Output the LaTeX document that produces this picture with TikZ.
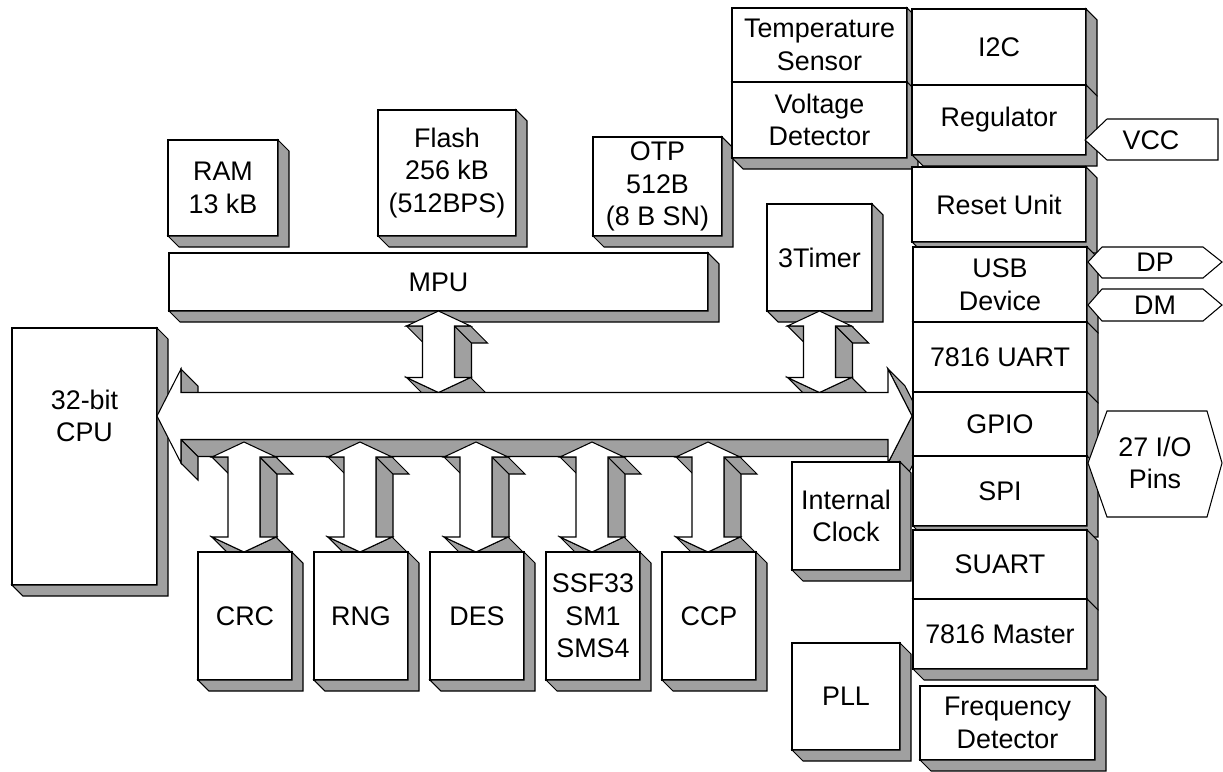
\documentclass[tikz,border=0pt]{standalone}
\usepackage{fontspec}
\setmainfont{Liberation Sans}
\usetikzlibrary{calc}
\definecolor{faceGray}{RGB}{160,160,160}

% box with its right and bottom faces: name, x1, y1, x2, y2, text
\newcommand\chipblock[6]{%
  \node[blk, minimum width={((#4)-(#2))*0.02cm}, minimum height={((#5)-(#3))*0.02cm}]
     (#1) at ({((#2)+(#4))/2},{((#3)+(#5))/2}) {#6};
  \filldraw[sideface] (#1.north east) -- ++(11,11) -- ($(#1.south east)+(11,11)$)
     -- ($(#1.south west)+(11,11)$) -- (#1.south west) -- (#1.south east) -- cycle;
}
% double arrow between an upper tip and a lower tip
\newcommand\vlink[2]{%
  \filldraw[sideface] ($(#1)+(16,15)$) -- ($(#2)+(16,-15)$) -- ($(#2)+(33,2)$) -- ($(#1)+(33,32)$) -- cycle;
  \filldraw[sideface] ($(#1)+(32,15)$) -- ($(#1)+(16,15)$) -- ($(#1)+(33,32)$) -- ($(#1)+(49,32)$) -- cycle;
  \filldraw[sideface] ($(#1)+(-16,15)$) -- ($(#1)+(-32,15)$) -- ($(#1)+(-15,32)$) -- ($(#1)+(1,32)$) -- cycle;
  \filldraw[sideface] ($(#2)+(32,-15)$) -- (#2) -- ($(#2)+(17,17)$) -- ($(#2)+(49,2)$) -- cycle;
  \filldraw[sideface] (#2) -- ($(#2)+(-32,-15)$) -- ($(#2)+(-15,2)$) -- ($(#2)+(17,17)$) -- cycle;
  \filldraw[frontface] (#1) -- ($(#1)+(32,15)$) -- ($(#1)+(16,15)$) -- ($(#2)+(16,-15)$)
     -- ($(#2)+(32,-15)$) -- (#2) -- ($(#2)+(-32,-15)$) -- ($(#2)+(-16,-15)$)
     -- ($(#1)+(-16,15)$) -- ($(#1)+(-32,15)$) -- cycle;
}

\begin{document}
\begin{tikzpicture}[x=0.02cm, y=-0.02cm, line width=0.6pt,
  font=\fontsize{15.3}{18.6}\selectfont,
  blk/.style={draw, fill=white, inner sep=0pt, outer sep=0pt, align=center},
  sideface/.style={draw, fill=faceGray},
  frontface/.style={draw, fill=white},
  pinshape/.style={draw, fill=white},
  pinlbl/.style={inner sep=0pt, align=center}]
\useasboundingbox (0,0) rectangle (1223,771);

% ===== memories and sensors along the top =====
\chipblock{ram}{168}{140}{278}{236}{RAM\\13 kB}
\chipblock{flash}{378}{110}{516}{236}{Flash\\256 kB\\(512BPS)}
\chipblock{otp}{593}{137}{722}{236}{OTP\\512B\\(8 B SN)}
\chipblock{temp}{732}{8}{907}{82}{Temperature\\Sensor}
\chipblock{volt}{732}{82}{907}{158}{Voltage\\Detector}
\chipblock{i2c}{912}{9}{1086}{85}{I2C}
\chipblock{reg}{912}{85}{1086}{155}{Regulator}
\chipblock{rst}{912}{167}{1086}{242}{Reset Unit}

% ===== MPU, timer, CPU =====
\chipblock{mpu}{169}{253}{708}{311}{MPU}
\chipblock{timer}{767}{204}{872}{311}{3Timer}
\chipblock{cpu}{12}{328}{157}{585}{}

\coordinate (busL) at (157,416);
\coordinate (busR) at (912,416);
\coordinate (bustop) at (0,392.5);
\coordinate (busbot) at (0,442);
\node[pinlbl] (cpulbl) at (cpu.center |- busL) {32-bit\\CPU};

\vlink{mpu.south}{mpu.south |- bustop}
\vlink{timer.south}{timer.south |- bustop}

% ===== system bus =====
\filldraw[sideface] ($(busL)+(24,-47)$) -- ($(busL)+(24,-23.5)$) -- ($(busL)+(41,-6.5)$) -- ($(busL)+(41,-30)$) -- cycle;
\filldraw[sideface] ($(busR)+(-24,23.5)$) -- ($(busL)+(24,23.5)$) -- ($(busL)+(41,40.5)$) -- ($(busR)+(-7,40.5)$) -- cycle;
\filldraw[sideface] ($(busL)+(24,23.5)$) -- ($(busL)+(24,47)$) -- ($(busL)+(41,64)$) -- ($(busL)+(41,40.5)$) -- cycle;
\filldraw[sideface] ($(busR)+(-24,-47)$) -- (busR) -- ($(busR)+(17,17)$) -- ($(busR)+(-7,-30)$) -- cycle;
\filldraw[sideface] (busR) -- ($(busR)+(-24,47)$) -- ($(busR)+(-7,64)$) -- ($(busR)+(17,17)$) -- cycle;
\filldraw[frontface] (busL) -- ($(busL)+(24,-47)$) -- ($(busL)+(24,-23.5)$) -- ($(busR)+(-24,-23.5)$)
   -- ($(busR)+(-24,-47)$) -- (busR) -- ($(busR)+(-24,47)$) -- ($(busR)+(-24,23.5)$)
   -- ($(busL)+(24,23.5)$) -- ($(busL)+(24,47)$) -- cycle;

% ===== peripherals on the right =====
\chipblock{usb}{913}{247}{1087}{322}{USB\\Device}
\chipblock{uart}{913}{322}{1087}{392}{7816 UART}
\chipblock{gpio}{913}{392}{1087}{456}{GPIO}
\chipblock{spi}{913}{456}{1087}{526}{SPI}
\chipblock{suart}{913}{530}{1087}{599}{SUART}
\chipblock{mst}{913}{599}{1087}{669}{7816 Master}

% ===== crypto engines under the bus =====
\foreach \nm/\txt [count=\i from 0] in {crc/CRC, rng/RNG, des/DES, ssf/{SSF33\\SM1\\SMS4}, ccp/CCP} {
  \coordinate (\nm top) at (244+116*\i,552);
  \vlink{\nm top |- busbot}{\nm top}
  \chipblock{\nm}{198+116*\i}{552}{292+116*\i}{680}{\txt}
}

% ===== clocks =====
\chipblock{clk}{792}{462}{900}{570}{Internal\\Clock}
\chipblock{pll}{792}{643}{900}{750}{PLL}
\chipblock{freq}{920}{686}{1095}{760}{Frequency\\Detector}

% ===== pins =====
\draw[pinshape] (1085,140) -- (1107,119) -- (1218,119) -- (1218,160) -- (1107,160) -- cycle;
\node[pinlbl] (vcc) at (1151,140) {VCC};
\draw[pinshape] (1088,262) -- (1102,247) -- (1203,247) -- (1222,262) -- (1203,278) -- (1102,278) -- cycle;
\node[pinlbl] (dp) at (1155,262) {DP};
\draw[pinshape] (1088,305) -- (1102,289) -- (1203,289) -- (1222,305) -- (1203,321) -- (1102,321) -- cycle;
\node[pinlbl] (dm) at (1155,305) {DM};
\draw[pinshape] (1088,463) -- (1107,411) -- (1207,411) -- (1222,463) -- (1207,517) -- (1107,517) -- cycle;
\node[pinlbl] (io) at (1155,463) {27 I/O\\Pins};
\end{tikzpicture}
\end{document}
